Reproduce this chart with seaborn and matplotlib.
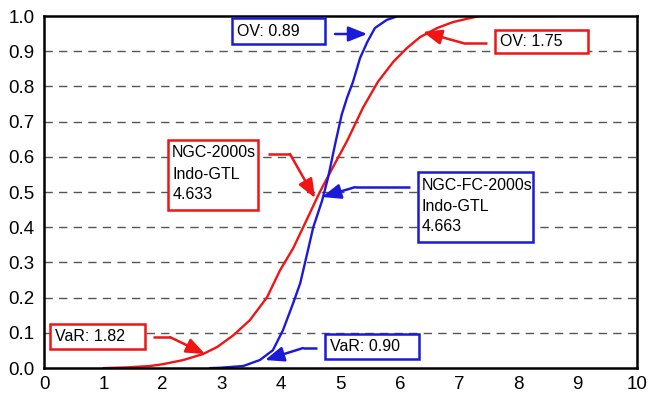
import matplotlib
matplotlib.use("Agg")
import matplotlib.pyplot as plt
import seaborn as sns
import pandas as pd
from matplotlib.patches import Rectangle
from matplotlib.ticker import MultipleLocator

# ---- data ----
red_x = [1.0, 1.4, 1.79, 2.0, 2.35, 2.68, 2.92, 3.19, 3.47, 3.76, 3.98, 4.2, 4.37, 4.65, 4.87,
         5.11, 5.38, 5.63, 5.89, 6.12, 6.34, 6.63, 6.9, 7.18, 7.35, 8.6]
red_y = [0.0, 0.002, 0.006, 0.011, 0.023, 0.04, 0.06, 0.093, 0.136, 0.201, 0.278, 0.34, 0.40, 0.50, 0.57,
         0.645, 0.74, 0.813, 0.87, 0.909, 0.94, 0.966, 0.983, 0.994, 1.0, 1.0]
blue_x = [2.8, 2.97, 3.36, 3.64, 3.86, 4.03, 4.2, 4.32, 4.43, 4.54, 4.69, 4.79, 4.91, 5.02, 5.11,
          5.21, 5.33, 5.45, 5.58, 5.78, 5.97, 6.55]
blue_y = [0.0, 0.001, 0.006, 0.023, 0.051, 0.108, 0.184, 0.241, 0.32, 0.40, 0.476, 0.541, 0.637, 0.72, 0.768,
          0.813, 0.881, 0.926, 0.966, 0.989, 1.0, 1.0]
x_ticks = list(range(0, 11))
y_ticks = [i / 10 for i in range(0, 11)]

RED = "#f01414"
BLUE = "#1a1ad8"

sns.set_theme(style="white")
plt.rcParams["font.family"] = ["Liberation Sans", "DejaVu Sans"]

fig = plt.figure(figsize=(6.48, 4.01), dpi=100)
ax = fig.add_axes([0.068, 0.082, 0.915, 0.878])

df_red = pd.DataFrame({"x": red_x, "y": red_y})
df_blue = pd.DataFrame({"x": blue_x, "y": blue_y})
sns.lineplot(data=df_red, x="x", y="y", sort=False, estimator=None, color=RED, lw=1.7, ax=ax, zorder=3)
sns.lineplot(data=df_blue, x="x", y="y", sort=False, estimator=None, color=BLUE, lw=1.7, ax=ax, zorder=3)

ax.set_xlim(0, 10)
ax.set_ylim(0, 1.0)
ax.set_xticks(x_ticks)
ax.set_xticklabels([str(t) for t in x_ticks])
ax.set_yticks(y_ticks)
ax.set_yticklabels([f"{t:.1f}" for t in y_ticks])
ax.xaxis.set_minor_locator(MultipleLocator(0.2))
ax.set_xlabel("")
ax.set_ylabel("")

for yv in y_ticks[1:-1]:
    ax.axhline(yv, color="#555555", lw=1.0, ls=(0, (6, 4.5)), zorder=1)

for s in ax.spines.values():
    s.set_color("black")
    s.set_linewidth(1.8)
    s.set_zorder(4)

ax.tick_params(axis="x", which="major", direction="inout", length=8, width=1.0,
               labelsize=13.5, pad=2, colors="black")
ax.tick_params(axis="x", which="minor", direction="in", length=4, width=0.8, colors="black")
ax.tick_params(axis="y", which="major", direction="out", length=5, width=1.0,
               labelsize=13.5, pad=2, colors="black")
ax.tick_params(axis="y", which="minor", left=False)


def box(x0, x1, y0, y1, color):
    ax.add_patch(Rectangle((x0, y0), x1 - x0, y1 - y0, fill=True, facecolor="white",
                           edgecolor=color, lw=1.8, zorder=5))


def arrow(points, color):
    xs = [p[0] for p in points[:-1]]
    ys = [p[1] for p in points[:-1]]
    if len(points) > 2:
        ax.plot(xs, ys, color=color, lw=1.8, zorder=5, solid_capstyle="butt")
    ax.annotate("", xy=points[-1], xytext=points[-2],
                arrowprops=dict(arrowstyle="-|>,head_length=0.95,head_width=0.38",
                                color=color, lw=1.8, shrinkA=0, shrinkB=0),
                zorder=6)


txt_kw = dict(fontsize=11.5, color="black", zorder=7, va="center", ha="left")

# OV: 0.89 (blue)
box(3.170, 4.739, 0.920, 0.994, BLUE)
ax.text(3.255, 0.957, "OV: 0.89", **txt_kw)
arrow([(4.907, 0.949), (5.45, 0.949)], BLUE)

# OV: 1.75 (red)
box(7.605, 9.174, 0.895, 0.960, RED)
ax.text(7.69, 0.928, "OV: 1.75", **txt_kw)
arrow([(7.47, 0.923), (7.07, 0.923), (6.39, 0.955)], RED)

# NGC-2000s (red)
box(2.091, 3.609, 0.449, 0.648, RED)
ax.text(2.16, 0.611, "NGC-2000s", **txt_kw)
ax.text(2.16, 0.551, "Indo-GTL", **txt_kw)
ax.text(2.16, 0.494, "4.633", **txt_kw)
arrow([(3.777, 0.608), (4.148, 0.608), (4.570, 0.483)], RED)

# NGC-FC-2000s (blue)
box(6.307, 8.246, 0.358, 0.557, BLUE)
ax.text(6.374, 0.520, "NGC-FC-2000s", **txt_kw)
ax.text(6.374, 0.460, "Indo-GTL", **txt_kw)
ax.text(6.374, 0.403, "4.663", **txt_kw)
arrow([(6.172, 0.514), (5.245, 0.514), (4.688, 0.486)], BLUE)

# VaR: 1.82 (red)
box(0.101, 1.703, 0.054, 0.125, RED)
ax.text(0.186, 0.0895, "VaR: 1.82", **txt_kw)
arrow([(1.838, 0.088), (2.125, 0.088), (2.715, 0.040)], RED)

# VaR: 0.90 (blue)
box(4.739, 6.324, 0.026, 0.097, BLUE)
ax.text(4.823, 0.0625, "VaR: 0.90", **txt_kw)
arrow([(4.604, 0.057), (4.368, 0.057), (3.727, 0.023)], BLUE)

fig.savefig("out.png", dpi=100)
